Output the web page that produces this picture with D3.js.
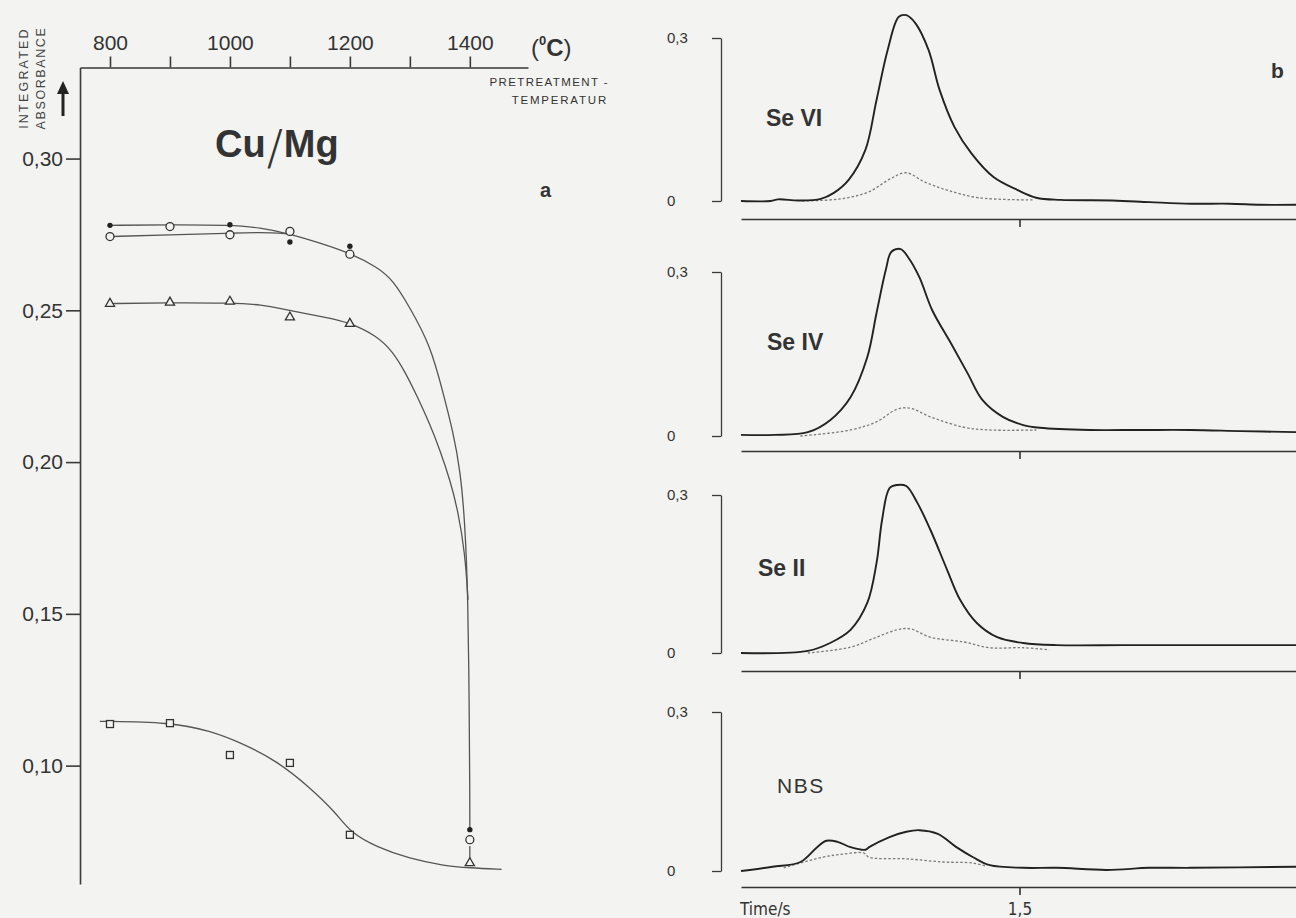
<!DOCTYPE html>
<html><head><meta charset="utf-8">
<script src="https://cdn.jsdelivr.net/npm/d3@7"></script>
<style>
html,body{margin:0;padding:0;background:#f3f3f1;}
svg{display:block;}
</style></head><body>
<svg id="chart" width="1296" height="918"></svg>
<script>
// ================= Panel a : integrated absorbance vs pretreatment temperature =================
const temperatureTicks = [800, 900, 1000, 1100, 1200, 1300, 1400];
const temperatureLabels = [800, 1000, 1200, 1400];
const absorbanceTicks = [0.10, 0.15, 0.20, 0.25, 0.30];

const filledTemps = [800, 1000, 1100, 1200, 1400];
const filledValues = [0.278, 0.2782, 0.2725, 0.2711, 0.0789];
const circleTemps = [800, 900, 1000, 1100, 1200, 1400];
const circleValues = [0.2743, 0.2776, 0.2749, 0.276, 0.2685, 0.0756];
const triangleTemps = [800, 900, 1000, 1100, 1200, 1400];
const triangleValues = [0.2522, 0.2526, 0.2529, 0.2477, 0.2456, 0.0679];
const squareTemps = [800, 900, 1000, 1100, 1200];
const squareValues = [0.1137, 0.114, 0.1035, 0.1009, 0.0772];

// hand-drawn fit curves
const fitUpperTemps = [800, 900, 1000, 1050, 1100, 1150, 1200, 1245, 1272, 1300, 1334, 1355, 1372, 1384, 1392, 1397, 1399, 1400, 1400];
const fitUpperValues = [0.278, 0.2782, 0.2781, 0.2773, 0.2752, 0.2722, 0.2689, 0.2643, 0.2600, 0.2509, 0.2386, 0.2232, 0.2100, 0.1974, 0.1800, 0.1546, 0.12, 0.09, 0.0791];
const fitCircleTemps = [800, 900, 1000, 1050, 1100, 1100];
const fitCircleValues = [0.2743, 0.2749, 0.2754, 0.2757, 0.2752, 0.2752];
const fitTriangleTemps = [795, 795, 900, 1000, 1050, 1105, 1162, 1199, 1245, 1272, 1292, 1312, 1334, 1350, 1367, 1380, 1392, 1397];
const fitTriangleValues = [0.2522, 0.2522, 0.2525, 0.2524, 0.252, 0.2497, 0.2476, 0.2460, 0.2416, 0.2363, 0.2297, 0.2218, 0.2122, 0.2040, 0.1941, 0.1842, 0.1700, 0.1546];
const fitSquareTemps = [783, 783, 900, 967, 1022, 1078, 1133, 1178, 1200, 1245, 1300, 1355, 1400, 1453, 1453];
const fitSquareValues = [0.1146, 0.1146, 0.1143, 0.1115, 0.1072, 0.1016, 0.0929, 0.0842, 0.0781, 0.0731, 0.0693, 0.0671, 0.0663, 0.0658, 0.0658];
const dropTemps = [1400, 1400];
const dropValues = [0.0735, 0.0695];

// ================= Panel b : absorbance signals vs time =================
const timeTicks = [1.5];
const signalTicks = [0, 0.3];
const panelNames = ["Se VI", "Se IV", "Se II", "NBS"];

const seVITime = [0, 0.16, 0.2, 0.31, 0.43, 0.5, 0.58, 0.67, 0.73, 0.79, 0.85, 0.89, 0.94, 1.01, 1.07, 1.15, 1.24, 1.36, 1.49, 1.59, 1.72, 2.0, 2.2, 2.42, 2.63, 2.8, 2.99];
const seVISolid = [0, 0, 0.003, 0.001, 0.004, 0.015, 0.039, 0.094, 0.186, 0.278, 0.339, 0.342, 0.327, 0.278, 0.204, 0.136, 0.088, 0.044, 0.020, 0.006, 0.002, 0.001, -0.002, -0.005, -0.005, -0.007, -0.007];
const seVIDotTime = [0.33, 0.48, 0.59, 0.69, 0.81, 0.89, 0.99, 1.11, 1.28, 1.58];
const seVIDotted = [0, 0.002, 0.007, 0.017, 0.042, 0.052, 0.035, 0.020, 0.006, 0.002];

const seIVTime = [0, 0.18, 0.36, 0.48, 0.59, 0.68, 0.73, 0.78, 0.81, 0.86, 0.90, 0.96, 1.03, 1.13, 1.22, 1.30, 1.41, 1.52, 1.61, 1.88, 2.15, 2.42, 2.69, 2.99];
const seIVSolid = [0.002, 0.002, 0.007, 0.029, 0.071, 0.144, 0.225, 0.304, 0.337, 0.342, 0.327, 0.291, 0.230, 0.170, 0.115, 0.066, 0.035, 0.020, 0.015, 0.011, 0.011, 0.011, 0.009, 0.007];
const seIVDotTime = [0.32, 0.59, 0.73, 0.84, 0.91, 1.02, 1.20, 1.34, 1.59];
const seIVDotted = [0, 0.011, 0.026, 0.049, 0.051, 0.035, 0.016, 0.011, 0.011];

const seIITime = [0, 0.36, 0.48, 0.59, 0.68, 0.73, 0.76, 0.80, 0.84, 0.89, 0.95, 1.02, 1.11, 1.18, 1.27, 1.38, 1.52, 1.70, 2.06, 2.42, 2.99];
const seIISolid = [0, 0.004, 0.019, 0.044, 0.095, 0.171, 0.253, 0.313, 0.319, 0.317, 0.285, 0.234, 0.158, 0.101, 0.057, 0.030, 0.019, 0.015, 0.015, 0.015, 0.015];
const seIIDotTime = [0.36, 0.59, 0.73, 0.84, 0.91, 1.02, 1.20, 1.34, 1.52, 1.66];
const seIIDotted = [0, 0.011, 0.030, 0.044, 0.046, 0.030, 0.021, 0.010, 0.010, 0.006];

const nbsTime = [0, 0.17, 0.32, 0.41, 0.46, 0.52, 0.59, 0.67, 0.69, 0.80, 0.89, 0.96, 1.06, 1.16, 1.25, 1.34, 1.52, 1.70, 1.97, 2.2, 2.42, 2.99];
const nbsSolid = [0, 0.008, 0.017, 0.045, 0.057, 0.055, 0.045, 0.040, 0.045, 0.064, 0.074, 0.077, 0.070, 0.045, 0.026, 0.011, 0.006, 0.006, 0.002, 0.006, 0.006, 0.008];
const nbsDotTime = [0.23, 0.44, 0.55, 0.66, 0.69, 0.89, 1.09, 1.25, 1.32];
const nbsDotted = [0.006, 0.026, 0.032, 0.034, 0.026, 0.023, 0.017, 0.015, 0.009];

// ================= drawing =================
const svg = d3.select("#chart");
const BG = "#f3f3f1", INK = "#333", SANS = "'Liberation Sans', Arial, sans-serif";
const zip = (a, b) => a.map((v, i) => [v, b[i]]);
const comma = (d, n) => d3.format("." + n + "f")(d).replace(".", ",");

// ---- panel a ----
const x = d3.scaleLinear().domain([750, 1497]).range([80, 528]);
const y = d3.scaleLinear().domain([0.061, 0.33]).range([884, 67.5]);
const gA = svg.append("g");

const topAxis = d3.axisTop(x).tickValues(temperatureTicks).tickSize(11).tickSizeOuter(0)
  .tickFormat(d => temperatureLabels.includes(d) ? String(d) : "");
const gTop = gA.append("g").attr("transform", `translate(0,${y(0.33)})`).call(topAxis);
gTop.selectAll("text").attr("font-family", SANS).attr("font-size", 21).attr("fill", INK).attr("dy", "-0.15em");

const leftAxis = d3.axisLeft(y).tickValues(absorbanceTicks).tickSize(14).tickSizeOuter(0).tickPadding(3)
  .tickFormat(d => comma(d, 2));
const gLeft = gA.append("g").attr("transform", `translate(${x(750)},0)`).call(leftAxis);
gLeft.selectAll("text").attr("font-family", SANS).attr("font-size", 21).attr("fill", INK);
[gTop, gLeft].forEach(g => {
  g.selectAll("path,line").attr("stroke", "#3a3a3a").attr("stroke-width", 1.6);
});

const line = d3.line().x(d => x(d[0])).y(d => y(d[1])).curve(d3.curveBasis);
const curveStyle = p => p.attr("fill", "none").attr("stroke", "#555").attr("stroke-width", 1.3);
[[fitUpperTemps, fitUpperValues], [fitCircleTemps, fitCircleValues],
 [fitTriangleTemps, fitTriangleValues], [fitSquareTemps, fitSquareValues]].forEach(([t, v]) => {
  gA.append("path").datum(zip(t, v)).attr("d", line).call(curveStyle);
});
gA.append("line").attr("x1", x(dropTemps[0])).attr("x2", x(dropTemps[1]))
  .attr("y1", y(dropValues[0])).attr("y2", y(dropValues[1])).call(curveStyle);

// markers
gA.selectAll(".sq").data(zip(squareTemps, squareValues)).join("rect")
  .attr("x", d => x(d[0]) - 3.5).attr("y", d => y(d[1]) - 3.5).attr("width", 7).attr("height", 7)
  .attr("fill", BG).attr("stroke", INK).attr("stroke-width", 1.3);
const tri = d3.symbol().type(d3.symbolTriangle).size(36);
gA.selectAll(".tri").data(zip(triangleTemps, triangleValues)).join("path")
  .attr("d", tri).attr("transform", d => `translate(${x(d[0])},${y(d[1])})`)
  .attr("fill", BG).attr("stroke", INK).attr("stroke-width", 1.3);
gA.selectAll(".circ").data(zip(circleTemps, circleValues)).join("circle")
  .attr("cx", d => x(d[0])).attr("cy", d => y(d[1])).attr("r", 4)
  .attr("fill", BG).attr("stroke", INK).attr("stroke-width", 1.3);
gA.selectAll(".dot").data(zip(filledTemps, filledValues)).join("circle")
  .attr("cx", d => x(d[0])).attr("cy", d => y(d[1])).attr("r", 2.7).attr("fill", "#222");

// texts panel a
const cu = gA.append("text").attr("x", 215).attr("y", 157).attr("font-family", SANS).attr("fill", "#333");
cu.append("tspan").attr("font-size", 38).attr("font-weight", "bold").text("Cu");
cu.append("tspan").attr("font-size", 48).attr("font-family", "'DejaVu Sans', sans-serif").attr("font-weight", 200).attr("dx", 1).attr("dy", 7).text("/");
cu.append("tspan").attr("font-size", 38).attr("font-weight", "bold").attr("dx", 1).attr("dy", -7).text("Mg");
gA.append("text").attr("x", 540).attr("y", 197).attr("font-family", SANS).attr("font-size", 20).attr("font-weight", "bold").attr("fill", INK).text("a");

const deg = gA.append("text").attr("x", 531).attr("y", 56).attr("font-family", SANS).attr("fill", INK);
deg.append("tspan").attr("font-size", 24).text("(");
deg.append("tspan").attr("font-size", 13).attr("font-weight", "bold").attr("dy", -11).text("0");
deg.append("tspan").attr("font-size", 24).attr("font-weight", "bold").attr("dy", 11).text("C");
deg.append("tspan").attr("font-size", 24).text(")");

gA.append("text").attr("x", 609).attr("y", 86).attr("text-anchor", "end").attr("font-family", SANS)
  .attr("font-size", 11.5).attr("letter-spacing", 1.4).attr("fill", INK).text("PRETREATMENT -");
gA.append("text").attr("x", 608).attr("y", 104).attr("text-anchor", "end").attr("font-family", SANS)
  .attr("font-size", 11.5).attr("letter-spacing", 1.8).attr("fill", INK).text("TEMPERATUR");

const yl = gA.append("g").attr("transform", "translate(0,78) rotate(-90)");
yl.append("text").attr("x", 0).attr("y", 28).attr("text-anchor", "middle").attr("font-family", SANS)
  .attr("font-size", 12.5).attr("letter-spacing", 2.2).attr("fill", "#444").text("INTEGRATED");
yl.append("text").attr("x", 0).attr("y", 45).attr("text-anchor", "middle").attr("font-family", SANS)
  .attr("font-size", 12.5).attr("letter-spacing", 1.6).attr("fill", "#444").text("ABSORBANCE");
gA.append("line").attr("x1", 63).attr("x2", 63).attr("y1", 116).attr("y2", 92).attr("stroke", "#222").attr("stroke-width", 3);
gA.append("path").attr("d", "M57,94 L63,81 L69,94 Z").attr("fill", "#222");

// ---- panel b ----
const t = d3.scaleLinear().domain([0, 3]).range([741, 1298]);
const panelLayout = [
  { zero: 201, top: 38, axis: 219, lx: 766, ly: 126 },
  { zero: 436, top: 272, axis: 451, lx: 767, ly: 350 },
  { zero: 653, top: 495, axis: 671, lx: 758, ly: 576 },
  { zero: 871, top: 712, axis: 887, lx: 777, ly: 793 }
];
const solidSeries = [[seVITime, seVISolid], [seIVTime, seIVSolid], [seIITime, seIISolid], [nbsTime, nbsSolid]];
const dottedSeries = [[seVIDotTime, seVIDotted], [seIVDotTime, seIVDotted], [seIIDotTime, seIIDotted], [nbsDotTime, nbsDotted]];
const COND = "'DejaVu Sans Condensed', 'DejaVu Sans', sans-serif";

panelLayout.forEach((p, i) => {
  const g = svg.append("g");
  const ys = d3.scaleLinear().domain([0, 0.3]).range([p.zero, p.top]);
  // bracket axis
  const ax = d3.axisLeft(ys).tickValues(signalTicks).tickSize(9).tickSizeOuter(0)
    .tickFormat(d => d === 0 ? "0" : comma(d, 1));
  const gb = g.append("g").attr("transform", "translate(721,0)").call(ax);
  gb.selectAll("path,line").attr("stroke", "#3a3a3a").attr("stroke-width", 1.3);
  gb.selectAll("text").attr("text-anchor", "start").attr("x", -54).attr("font-family", SANS)
    .attr("font-size", 15).attr("fill", INK);
  // time axis
  const tx = d3.axisBottom(t).tickValues(timeTicks).tickSize(8).tickSizeOuter(0).tickPadding(8)
    .tickFormat(d => i === 3 ? comma(d, 1) : "");
  const gt = g.append("g").attr("transform", `translate(0,${p.axis})`).call(tx);
  gt.selectAll("path,line").attr("stroke", "#333").attr("stroke-width", 1.6);
  gt.selectAll("text").attr("font-family", COND).attr("font-size", 17).attr("fill", INK);
  // traces
  const ln = d3.line().x(d => t(d[0])).y(d => ys(d[1])).curve(d3.curveCatmullRom.alpha(0.5));
  g.append("path").datum(zip(dottedSeries[i][0], dottedSeries[i][1])).attr("d", ln)
    .attr("fill", "none").attr("stroke", "#7a7a7a").attr("stroke-width", 1.3).attr("stroke-dasharray", "2.5,2");
  g.append("path").datum(zip(solidSeries[i][0], solidSeries[i][1])).attr("d", ln)
    .attr("fill", "none").attr("stroke", "#222").attr("stroke-width", 1.9).attr("stroke-linejoin", "round");
  // label
  g.append("text").attr("x", p.lx).attr("y", p.ly).attr("font-family", SANS)
    .attr("font-size", i === 3 ? 21 : 23).attr("font-weight", i === 3 ? "normal" : "bold")
    .attr("letter-spacing", i === 3 ? 1.5 : 0).attr("fill", "#333").text(panelNames[i]);
});
svg.append("text").attr("x", 1271).attr("y", 78).attr("font-family", SANS).attr("font-size", 21)
  .attr("font-weight", "bold").attr("fill", INK).text("b");
svg.append("text").attr("x", 740).attr("y", 915).attr("font-family", COND).attr("font-size", 17)
  .attr("fill", INK).text("Time/s");
</script>
</body></html>
